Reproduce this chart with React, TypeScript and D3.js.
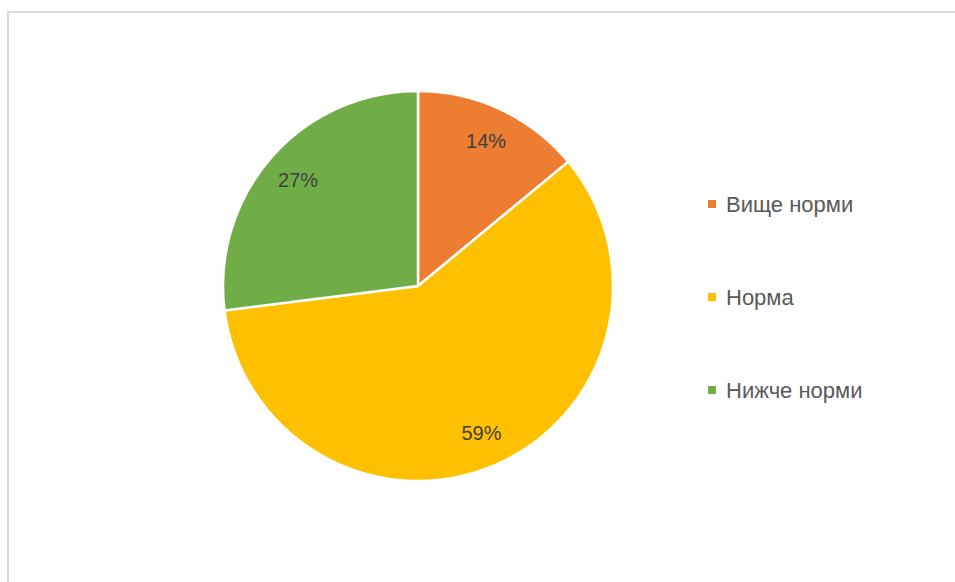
import React from "react";
import * as d3 from "d3";

const categories = ["Вище норми", "Норма", "Нижче норми"];
const values = [14, 59, 27];
const colors = ["#ED7D31", "#FFC000", "#70AD47"];

const W = 955;
const H = 582;
const cx = 418;
const cy = 286;
const R = 195;

export default function App() {
  const pie = d3.pie<number>().sort(null).value((d) => d);
  const arcs = pie(values);
  const arcGen = d3.arc<d3.PieArcDatum<number>>().innerRadius(0).outerRadius(R);
  const labelArc = d3.arc<d3.PieArcDatum<number>>().innerRadius(R * 0.82).outerRadius(R * 0.82);
  const total = d3.sum(values);
  const legendY = d3.scalePoint<string>().domain(categories).range([204, 390]);

  return (
    <svg
      width={W}
      height={H}
      style={{ position: "absolute", left: 0, top: 0, background: "#fff" }}
      fontFamily="'Liberation Sans', Arial, sans-serif"
    >
      <rect x={0} y={0} width={W} height={H} fill="#fff" />
      <rect x={8} y={12} width={W + 20} height={H + 20} fill="none" stroke="#D9D9D9" strokeWidth={2} />
      <g transform={`translate(${cx},${cy})`}>
        {arcs.map((a, i) => (
          <path key={i} d={arcGen(a) || ""} fill={colors[i]} stroke="#fff" strokeWidth={2.5} strokeLinejoin="round" />
        ))}
        {arcs.map((a, i) => {
          const [x, y] = labelArc.centroid(a);
          return (
            <text key={i} x={x} y={y} dy="0.35em" textAnchor="middle" fontSize={20} fill="#404040">
              {Math.round((a.data / total) * 100)}%
            </text>
          );
        })}
      </g>
      <g>
        {categories.map((c, i) => (
          <g key={c} transform={`translate(708,${legendY(c)})`}>
            <rect x={0} y={-4} width={8} height={8} fill={colors[i]} />
            <text x={18} y={0} dy="0.35em" fontSize={22} fill="#595959">
              {c}
            </text>
          </g>
        ))}
      </g>
    </svg>
  );
}
